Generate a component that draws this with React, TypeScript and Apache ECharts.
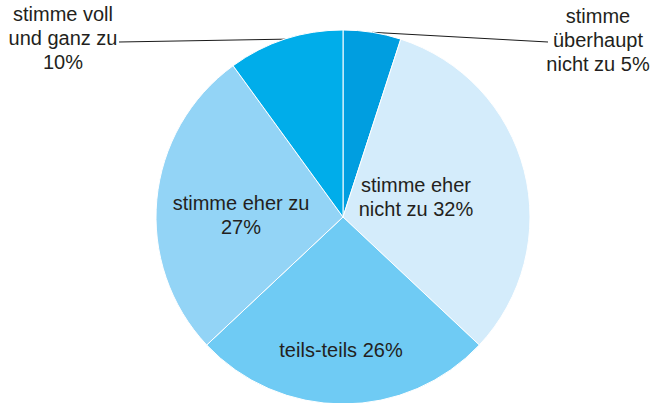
import React, { useEffect, useRef } from "react";
import * as echarts from "echarts";

const categories = [
  "stimme\nüberhaupt\nnicht zu",
  "stimme eher\nnicht zu",
  "teils-teils",
  "stimme eher zu",
  "stimme voll\nund ganz zu",
];
const values = [5, 32, 26, 27, 10];
const valueSeparators = [" ", " ", " ", "\n", "\n"];
const colors = ["#009ee0", "#d4ecfb", "#6fcbf4", "#93d4f6", "#00adea"];
const outside = [true, false, false, false, true];
// label centers (layout styling)
const labelPos: [number, number][] = [
  [598, 40],
  [416, 197],
  [341, 350],
  [241, 215],
  [63, 38],
];
// end of leader line near the label (only outside labels)
const lineEnds: ([number, number] | null)[] = [[548, 42], null, null, null, [119, 42]];

export default function App() {
  const ref = useRef<HTMLDivElement>(null);
  useEffect(() => {
    document.body.style.margin = "0";
    const chart = echarts.init(ref.current!, undefined, { renderer: "svg" });
    chart.setOption({
      animation: false,
      backgroundColor: "#ffffff",
      series: [
        {
          type: "pie",
          center: [343, 217],
          radius: 187,
          startAngle: 90,
          clockwise: true,
          itemStyle: { borderColor: "#ffffff", borderWidth: 1 },
          label: {
            fontFamily: "Liberation Sans",
            fontSize: 20,
            lineHeight: 24,
            color: "#231f20",
            align: "center",
            formatter: (p: any) => `${p.name}${valueSeparators[p.dataIndex]}${p.value}%`,
          },
          labelLine: { lineStyle: { color: "#1a1a1a", width: 1 } },
          labelLayout: (params: any) => {
            const i = params.dataIndex;
            const res: any = {
              x: labelPos[i][0],
              y: labelPos[i][1],
              align: "center",
              verticalAlign: "middle",
            };
            const end = lineEnds[i];
            if (end && params.labelLinePoints) {
              res.labelLinePoints = [params.labelLinePoints[0], end];
            }
            return res;
          },
          data: categories.map((name, i) => ({
            name,
            value: values[i],
            itemStyle: { color: colors[i] },
            label: { position: outside[i] ? "outside" : "inside" },
            labelLine: { show: outside[i], length: 10, length2: 10 },
          })),
        },
      ],
    });
    return () => chart.dispose();
  }, []);
  return <div ref={ref} style={{ width: 653, height: 403 }} />;
}
